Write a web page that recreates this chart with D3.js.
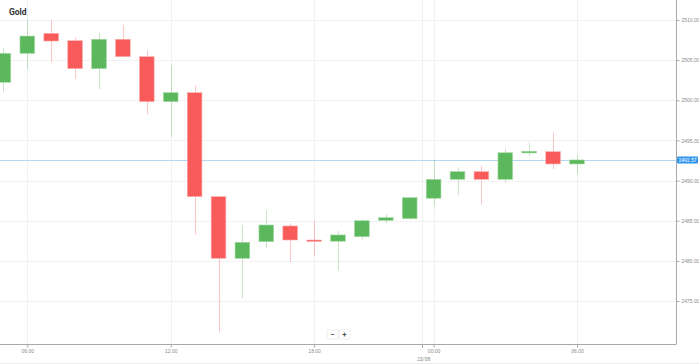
<!DOCTYPE html>
<html>
<head>
<meta charset="utf-8">
<script src="https://cdn.jsdelivr.net/npm/d3@7"></script>
<style>
  body { margin: 0; background: #fff; }
  svg { display: block; font-family: Roboto, "DejaVu Sans", sans-serif; }
  .axis path, .axis line { stroke: #a8a8a8; }
  .axis text { fill: #8a8a8a; font-size: 5px; }
</style>
</head>
<body>
<svg id="chart"></svg>
<script>
// hourly candles, 22/08 05:00 -> 23/08 06:00 (21:00 break skipped)
var times = ["05:00","06:00","07:00","08:00","09:00","10:00","11:00","12:00","13:00","14:00",
             "15:00","16:00","17:00","18:00","19:00","20:00","22:00","23:00",
             "00:00","01:00","02:00","03:00","04:00","05:00","06:00"];
var open  = [2502.24,2505.85,2508.34,2507.42,2503.94,2507.60,2505.43,2499.83,2500.95,2488.00,
             2480.32,2482.39,2484.35,2482.60,2482.45,2483.01,2485.05,2485.26,
             2487.80,2490.16,2491.11,2490.16,2493.44,2493.60,2492.07];
var high  = [2506.55,2510.10,2510.00,2507.80,2508.38,2509.40,2506.26,2504.40,2501.80,2488.00,
             2484.47,2486.25,2484.70,2485.00,2483.72,2485.18,2485.80,2487.90,
             2492.57,2491.66,2491.82,2493.97,2494.77,2496.00,2493.19];
var low   = [2501.00,2503.90,2504.73,2502.69,2501.40,2505.40,2498.30,2495.47,2483.30,2471.06,
             2475.34,2481.57,2479.90,2480.60,2478.78,2482.70,2484.68,2485.10,
             2486.75,2488.20,2487.00,2489.77,2493.00,2491.44,2490.90];
var close = [2505.85,2508.00,2507.38,2503.94,2507.60,2505.43,2499.83,2500.95,2488.00,2480.32,
             2482.32,2484.47,2482.60,2482.45,2483.23,2485.00,2485.38,2487.87,
             2490.16,2491.11,2490.16,2493.47,2493.65,2492.07,2492.57];
var priceTicks = [2475, 2480, 2485, 2490, 2495, 2500, 2505, 2510];
var timeTickIdx = [1, 7, 13, 18, 24];
var dayLabel = "23/08";
var dayBreakIdx = 17.5;
var title = "Gold";

var UpColor = "#5cb85c", DownColor = "#f95a5a", LastColor = "#2f95ec";

var width = 699, height = 364;
var plotW = 676, plotH = 344;

var svg = d3.select("#chart").attr("width", width).attr("height", height);

var x = d3.scaleLinear().domain([1, 24]).range([27.3, 577]);
var y = d3.scaleLinear().domain([2469.65, 2512.49]).range([plotH, 0]);
var step = x(1) - x(0);
var bodyW = step * 0.615;

// grid
svg.append("g").selectAll("line").data(priceTicks).enter().append("line")
  .attr("x1", 0).attr("x2", plotW)
  .attr("y1", function(d){ return Math.round(y(d)) + 0.5; })
  .attr("y2", function(d){ return Math.round(y(d)) + 0.5; })
  .attr("stroke", "#f1f1f1");
svg.append("g").selectAll("line").data(timeTickIdx.concat([dayBreakIdx])).enter().append("line")
  .attr("x1", function(d){ return Math.round(x(d)) + 0.5; })
  .attr("x2", function(d){ return Math.round(x(d)) + 0.5; })
  .attr("y1", 0).attr("y2", plotH)
  .attr("stroke", "#f1f1f1");

// last price line
var last = close[close.length - 1];
svg.append("line")
  .attr("x1", 0).attr("x2", plotW)
  .attr("y1", Math.round(y(last)) + 0.5).attr("y2", Math.round(y(last)) + 0.5)
  .attr("stroke", "#b3d7f3");

// candles
var idx = d3.range(times.length);
var g = svg.append("g");
g.selectAll("line.wick").data(idx).enter().append("line")
  .attr("class", "wick")
  .attr("x1", function(i){ return Math.round(x(i)) + 0.5; })
  .attr("x2", function(i){ return Math.round(x(i)) + 0.5; })
  .attr("y1", function(i){ return y(high[i]); })
  .attr("y2", function(i){ return y(low[i]); })
  .attr("stroke", function(i){ return close[i] >= open[i] ? UpColor : DownColor; })
  .attr("stroke-opacity", 0.35);
g.selectAll("rect.body").data(idx).enter().append("rect")
  .attr("class", "body")
  .attr("x", function(i){ return x(i) - bodyW / 2; })
  .attr("width", bodyW)
  .attr("y", function(i){ return y(Math.max(open[i], close[i])); })
  .attr("height", function(i){ return Math.max(1.5, Math.abs(y(open[i]) - y(close[i]))); })
  .attr("fill", function(i){ return close[i] >= open[i] ? UpColor : DownColor; })
  .attr("stroke", function(i){ return close[i] >= open[i] ? "#a6d9a6" : "#fbb0b0"; })
  .attr("stroke-width", 0.6);

// axes
var yAxis = d3.axisRight(y).tickValues(priceTicks).tickFormat(d3.format(".2f")).tickSize(3).tickPadding(2);
svg.append("g").attr("class", "axis").attr("transform", "translate(" + (plotW + 0.5) + ",0)")
  .call(yAxis)
  .call(function(a){ a.select(".domain").attr("d", "M0,0V" + (plotH + 0.5)); });

var xAxis = d3.axisBottom(x).tickValues(timeTickIdx)
  .tickFormat(function(i){ return times[i]; }).tickSize(3).tickPadding(2);
svg.append("g").attr("class", "axis").attr("transform", "translate(0," + (plotH + 0.5) + ")")
  .call(xAxis)
  .call(function(a){ a.select(".domain").attr("d", "M0,0H" + plotW).attr("stroke", "#c4c4c4"); });

// day separator tick and label
svg.append("line")
  .attr("x1", Math.round(x(dayBreakIdx)) + 0.5).attr("x2", Math.round(x(dayBreakIdx)) + 0.5)
  .attr("y1", plotH).attr("y2", plotH + 4).attr("stroke", "#a8a8a8");
svg.append("text")
  .attr("x", x(dayBreakIdx) + 2).attr("y", 361)
  .attr("text-anchor", "middle")
  .style("font-size", "5px").attr("fill", "#8a8a8a")
  .text(dayLabel);

svg.append("line").attr("x1", 0).attr("x2", width).attr("y1", 363.5).attr("y2", 363.5).attr("stroke", "#ececec");

// last price tag
var ly = y(last);
svg.append("rect").attr("x", plotW + 1).attr("y", ly - 3.5).attr("width", 21).attr("height", 7)
  .attr("rx", 1).attr("fill", LastColor);
svg.append("text").attr("x", plotW + 11.5).attr("y", ly + 1.7).attr("text-anchor", "middle")
  .style("font-size", "5px").attr("fill", "#fff").text(d3.format(".2f")(last));

// title
svg.append("text").attr("x", 9).attr("y", 15)
  .style("font-size", "8.5px").style("font-weight", "bold").attr("fill", "#333")
  .text(title);

// zoom buttons
var btns = ["\u2212", "+"];
var bg = svg.append("g").attr("transform", "translate(327,330)");
bg.selectAll("rect").data(btns).enter().append("rect")
  .attr("x", function(d, i){ return i * 12; }).attr("y", 0)
  .attr("width", 11).attr("height", 9).attr("rx", 1)
  .attr("fill", "#fff").attr("stroke", "#e2e2e2").attr("stroke-width", 0.6);
bg.selectAll("text").data(btns).enter().append("text")
  .attr("x", function(d, i){ return i * 12 + 5.5; }).attr("y", 7.3)
  .attr("text-anchor", "middle").style("font-size", "8px").style("font-weight", "bold")
  .attr("fill", "#555").text(function(d){ return d; });
</script>
</body>
</html>
